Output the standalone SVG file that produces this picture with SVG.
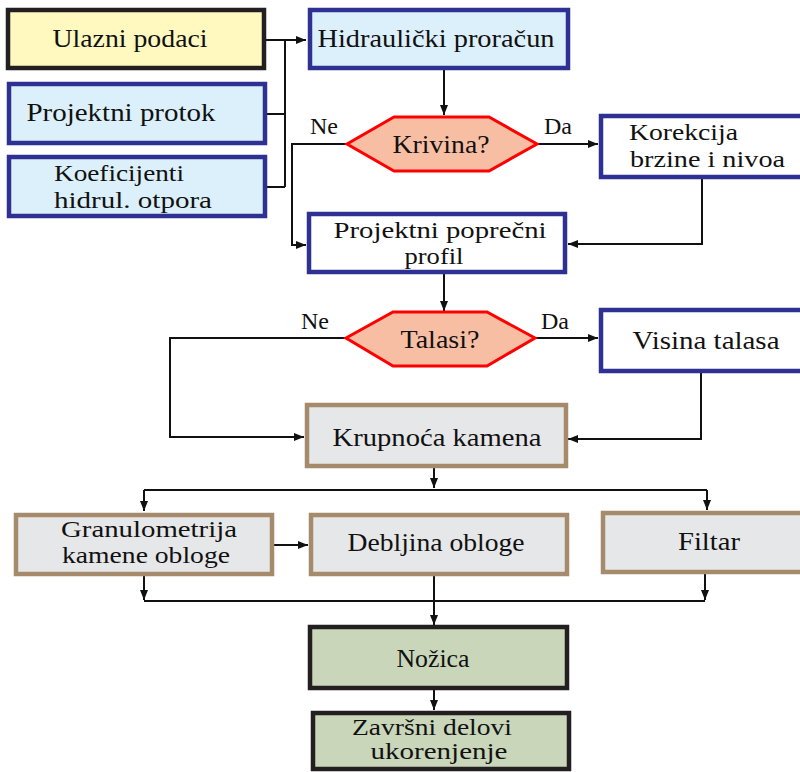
<svg xmlns="http://www.w3.org/2000/svg" width="800" height="772" viewBox="0 0 800 772">
<style>
text{font-family:"Liberation Serif","Times New Roman",serif;font-size:26px;fill:#111}
.c{text-anchor:middle}
.two{font-size:23px}
.lbl{font-size:24px}
.box{stroke-width:4.5}
.dark{stroke:#231f20}
.navy{stroke:#2e3192}
.tan{stroke:#a58a6b}
.yel{fill:#fff9c0}
.blu{fill:#dcf0fb}
.wht{fill:#ffffff}
.gry{fill:#e6e7e8}
.grn{fill:#c9d6b9}
.hex{fill:#f8bea4;stroke:#ff0000;stroke-width:3}
.ln{fill:none;stroke:#111;stroke-width:2}
</style>
<defs>
<marker id="ar" viewBox="0 0 10 8" refX="10" refY="4" markerWidth="10" markerHeight="8" markerUnits="userSpaceOnUse" orient="auto">
<path d="M0,0 L10,4 L0,8 z" fill="#111"/>
</marker>
</defs>
<g id="connectors">
<path class="ln" d="M266,40 H306" marker-end="url(#ar)"/>
<path class="ln" d="M285,40 V187 M267,114 H285 M267,187 H285"/>
<path class="ln" d="M444,70 V115" marker-end="url(#ar)"/>
<path class="ln" d="M537,144 H598" marker-end="url(#ar)"/>
<path class="ln" d="M347,144 H292 V245 H306" marker-end="url(#ar)"/>
<path class="ln" d="M702,179 V244 H568" marker-end="url(#ar)"/>
<path class="ln" d="M444,274 V311" marker-end="url(#ar)"/>
<path class="ln" d="M535,338 H598" marker-end="url(#ar)"/>
<path class="ln" d="M346,338 H170 V437 H304" marker-end="url(#ar)"/>
<path class="ln" d="M701,373 V439 H568" marker-end="url(#ar)"/>
<path class="ln" d="M434,468 V488" marker-end="url(#ar)"/>
<path class="ln" d="M144,490 H707"/>
<path class="ln" d="M144,490 V511" marker-end="url(#ar)"/>
<path class="ln" d="M707,490 V510" marker-end="url(#ar)"/>
<path class="ln" d="M274,545 H308" marker-end="url(#ar)"/>
<path class="ln" d="M144,576 V600" marker-end="url(#ar)"/>
<path class="ln" d="M705,574 V600" marker-end="url(#ar)"/>
<path class="ln" d="M144,601 H705"/>
<path class="ln" d="M434,576 V625" marker-end="url(#ar)"/>
<path class="ln" d="M434,690 V710" marker-end="url(#ar)"/>
<text class="lbl c" x="324" y="134">Ne</text>
<text class="lbl c" x="558" y="134">Da</text>
<text class="lbl c" x="315" y="329">Ne</text>
<text class="lbl c" x="555" y="329">Da</text>
</g>
<g id="ulazni">
<rect class="box dark yel" x="8" y="10" width="256" height="58"/>
<text class="c" x="130" y="47" textLength="155" lengthAdjust="spacingAndGlyphs">Ulazni podaci</text>
</g>
<g id="protok">
<rect class="box navy blu" x="9" y="84" width="256" height="59"/>
<text class="c" x="121" y="121" textLength="189" lengthAdjust="spacingAndGlyphs">Projektni protok</text>
</g>
<g id="koeficijenti">
<rect class="box navy blu" x="9" y="157" width="256" height="59"/>
<text class="two" x="54" y="181" textLength="130" lengthAdjust="spacingAndGlyphs">Koeficijenti</text>
<text class="two" x="54" y="208" textLength="158" lengthAdjust="spacingAndGlyphs">hidrul. otpora</text>
</g>
<g id="hidraulicki">
<rect class="box navy blu" x="310" y="10" width="258" height="58"/>
<text class="c" x="436" y="47" textLength="237" lengthAdjust="spacingAndGlyphs">Hidraulički proračun</text>
</g>
<g id="krivina">
<polygon class="hex" points="347,144 394,117 489,117 537,144 489,171 394,171"/>
<text class="c" x="441" y="153" textLength="97" lengthAdjust="spacingAndGlyphs">Krivina?</text>
</g>
<g id="korekcija">
<rect class="box navy wht" x="601" y="116" width="210" height="61"/>
<text class="two" x="629" y="140" textLength="109" lengthAdjust="spacingAndGlyphs">Korekcija</text>
<text class="two" x="630" y="167" textLength="155" lengthAdjust="spacingAndGlyphs">brzine i nivoa</text>
</g>
<g id="profil">
<rect class="box navy wht" x="309" y="214" width="256" height="58"/>
<text class="c two" x="440" y="238" textLength="213" lengthAdjust="spacingAndGlyphs">Projektni poprečni</text>
<text class="c two" x="434" y="264" textLength="59" lengthAdjust="spacingAndGlyphs">profil</text>
</g>
<g id="talasi">
<polygon class="hex" points="346,338 393,312 487,312 535,338 487,366 393,366"/>
<text class="c" x="440" y="348" textLength="79" lengthAdjust="spacingAndGlyphs">Talasi?</text>
</g>
<g id="visina">
<rect class="box navy wht" x="601" y="310" width="210" height="61"/>
<text class="c" x="706" y="349" textLength="147" lengthAdjust="spacingAndGlyphs">Visina talasa</text>
</g>
<g id="krupnoca">
<rect class="box tan gry" x="307" y="405" width="259" height="61"/>
<text class="c" x="437" y="446" textLength="209" lengthAdjust="spacingAndGlyphs">Krupnoća kamena</text>
</g>
<g id="granulometrija">
<rect class="box tan gry" x="16" y="515" width="256" height="59"/>
<text class="c two" x="149" y="537" textLength="176" lengthAdjust="spacingAndGlyphs">Granulometrija</text>
<text class="c two" x="146" y="563" textLength="168" lengthAdjust="spacingAndGlyphs">kamene obloge</text>
</g>
<g id="debljina">
<rect class="box tan gry" x="311" y="515" width="256" height="59"/>
<text class="c" x="436" y="551" textLength="177" lengthAdjust="spacingAndGlyphs">Debljina obloge</text>
</g>
<g id="filtar">
<rect class="box tan gry" x="603" y="513" width="210" height="59"/>
<text class="c" x="709" y="550" textLength="62" lengthAdjust="spacingAndGlyphs">Filtar</text>
</g>
<g id="nozica">
<rect class="box dark grn" x="310" y="627" width="257" height="61"/>
<text class="c" x="433" y="667" textLength="73" lengthAdjust="spacingAndGlyphs">Nožica</text>
</g>
<g id="zavrsni">
<rect class="box dark grn" x="313" y="713" width="256" height="56"/>
<text class="c two" x="432" y="735" textLength="160" lengthAdjust="spacingAndGlyphs">Završni delovi</text>
<text class="c two" x="439" y="759" textLength="137" lengthAdjust="spacingAndGlyphs">ukorenjenje</text>
</g>
</svg>
